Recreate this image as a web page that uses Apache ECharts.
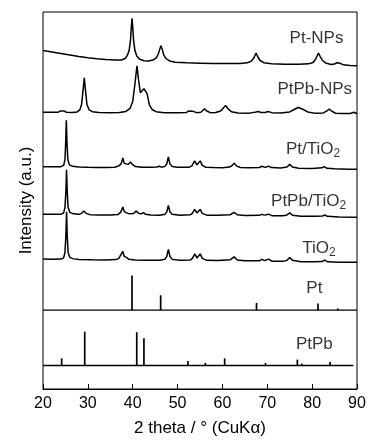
<!DOCTYPE html>
<html>
<head>
<meta charset="utf-8">
<script src="https://cdn.jsdelivr.net/npm/echarts@6/dist/echarts.min.js"></script>
<style>
  html, body { margin: 0; padding: 0; background: #fff; }
  #chart { width: 374px; height: 442px; }
</style>
</head>
<body>
<div id="chart"></div>
<script>
// XRD patterns, [2theta, intensity above own baseline] (a.u.)
const ptNps = [[20,16],[22,14.5],[24,13],[26,11.5],[28,10],[30,8.7],[32,7.8],[34,7],[36,6.4],[37.5,6.5],[38.3,8],[38.8,11],[39.2,16],[39.5,26],[39.7,40],[39.85,48.5],[40.0,40],[40.2,26],[40.5,16],[40.9,10.5],[41.5,7.5],[42.5,5.8],[43.5,5.5],[44.5,6.5],[45.2,8.5],[45.7,12.5],[46.0,17],[46.3,21],[46.6,17],[46.9,12],[47.4,8],[48.2,5.5],[49.5,4.3],[52,3.6],[55,3.3],[58,3],[61,2.9],[64,3.0],[65.5,3.6],[66.4,5.2],[67.0,8.5],[67.5,13.5],[67.9,9.5],[68.4,6],[69.2,3.8],[71,2.7],[74,2.3],[77,2.2],[79.2,2.6],[80.2,4],[80.8,7.5],[81.4,13.5],[81.8,10],[82.3,6],[83,3.5],[84.2,2],[85.0,2.4],[85.5,3.8],[85.8,4.5],[86.2,3.2],[87,1.6],[88.5,1],[90,0.6]];

const ptPbNps = [[20,1.2],[22,1.2],[23.4,1.3],[23.9,2.5],[24.3,4],[24.7,2.5],[25.2,1.2],[26.5,1.0],[27.6,1.5],[28.2,3.5],[28.6,9],[28.9,22],[29.2,36],[29.5,22],[29.8,9],[30.3,3.5],[31,1.8],[32.5,1],[35,0.8],[37,1],[38.5,2],[39.4,5],[40.0,12],[40.5,30],[40.95,48],[41.3,34],[41.7,21],[42.1,20],[42.5,25],[42.8,27],[43.2,20],[43.7,9],[44.3,4],[45.2,1.8],[47,0.8],[50,0.6],[52,1],[52.5,2.5],[52.9,4],[53.4,2.3],[54.2,0.8],[55.2,1.2],[55.6,3],[56,4.7],[56.5,2.5],[57.3,0.8],[58.5,1],[59.6,2.5],[60.2,5.5],[60.7,8],[61.2,5],[62,1.8],[63.5,0.5],[66,0.3],[67.5,1.5],[68,2],[68.6,1],[69.5,1],[70.2,2],[71,0.8],[73,0.5],[75,1.5],[76.2,4.5],[76.9,6],[77.8,4.5],[79,1.5],[80.5,0.3],[82.5,0.5],[83.3,2.5],[83.8,4.5],[84.3,2.5],[85.2,0.2],[87,0],[88.5,0],[89.3,1.2],[90,-0.3]];

const ptTiO2 = [[20,1.2],[22,1],[24,1.2],[24.6,2.5],[24.9,8],[25.05,25],[25.2,48],[25.35,25],[25.55,8],[25.9,3],[26.6,1.5],[28,0.8],[30,0.5],[32,0.3],[34,0.3],[36,0.6],[36.9,2],[37.4,4],[37.8,10],[38.1,4.5],[38.5,3],[39.0,3.5],[39.5,6],[39.9,3.5],[40.6,1.3],[42,0.6],[44,0.5],[45.4,0.8],[45.9,1.6],[46.4,0.7],[47.2,1.5],[47.6,4],[47.95,11],[48.3,4],[48.8,1.3],[50,0.5],[52.5,0.5],[53.2,2],[53.8,7],[54.3,3],[54.6,3],[55.05,7],[55.5,2.5],[56.3,0.6],[58,0.3],[60,0.2],[61.6,0.8],[62.2,2.5],[62.6,4.8],[63.1,2],[64,0.4],[66,0],[68.2,0.3],[68.8,1.6],[69.3,0.7],[69.8,0.8],[70.3,1.8],[70.9,0.3],[73,-0.2],[74.4,0.8],[75.0,3.5],[75.6,0.8],[77,-0.4],[80,-0.6],[82.2,0],[82.7,1.2],[83.3,-0.5],[85,-1],[88,-1.3],[90,-1.5]];

const ptPbTiO2 = [[20,1],[22,1],[24,1],[24.6,2.5],[24.9,8],[25.1,24],[25.25,46],[25.4,24],[25.6,8],[26,3],[26.8,1.5],[28,1],[28.6,2],[29.1,4.5],[29.6,2],[30.5,0.7],[32.5,0.3],[35,0.3],[36.7,0.8],[37.3,3],[37.8,8.5],[38.1,4],[38.6,2.5],[39.3,1.5],[40.2,1.8],[40.8,4.5],[41.3,2],[41.9,1.5],[42.4,2.8],[42.9,1],[44,0.3],[46,0.2],[47.2,1.2],[47.6,3.5],[47.95,10],[48.3,3.5],[48.8,1],[50.5,0.2],[52.8,0.5],[53.3,2],[53.8,6],[54.3,2.5],[54.6,2.5],[55.05,6],[55.5,2],[56.5,0.2],[59,0],[61.7,0.6],[62.6,3],[63.3,0.6],[65,-0.2],[68.2,0],[68.8,1],[69.4,0.2],[70.3,1.2],[71,-0.3],[73.5,-0.5],[74.4,0.4],[75,2.5],[75.6,0.2],[77.5,-0.8],[80.5,-1],[82.3,-0.6],[82.8,0.3],[83.4,-1],[86,-1.7],[90,-2]];

const tiO2 = [[20,1.3],[22,1.2],[24,1.3],[24.6,2.5],[24.9,8],[25.1,25],[25.25,49],[25.4,25],[25.6,8],[26,3],[26.8,1.5],[28,0.8],[31,0.5],[34,0.4],[36.3,0.8],[36.9,2],[37.3,3.5],[37.8,9],[38.1,4],[38.6,3],[39.1,1.2],[40.5,0.4],[43,0.2],[46,0.2],[47.2,1.2],[47.6,4],[47.95,11],[48.3,4],[48.8,1],[50.5,0],[52.8,0.3],[53.3,2],[53.85,6.5],[54.3,2.5],[54.6,2.5],[55.05,6.5],[55.5,2],[56.5,0],[59,-0.2],[61.7,0.5],[62.6,3.5],[63.3,0.3],[65,-0.5],[68.2,-0.5],[68.8,1],[69.4,-0.3],[70.3,1.3],[71,-0.8],[73.5,-1],[74.4,0],[75,3],[75.6,0],[77.5,-1.3],[80.5,-1.5],[82.2,-1.2],[82.8,0.3],[83.5,-1.5],[86,-2],[90,-2]];

// reference stick patterns [2theta, intensity]
const ptRef = [[39.84,35],[46.23,15],[67.6,7.3],[81.3,6.7],[85.7,1.7]];
const ptPbRef = [[24.16,7.3],[29.3,34.3],[40.9,33.7],[42.5,27.7],[52.3,4.7],[56.2,2.7],[60.5,7.3],[69.6,2.7],[76.7,6],[77.7,2],[84.0,3.7]];
const ptRefRange = [20, 90];
const ptPbRefRange = [20, 89.2];

// vertical offsets of each pattern
const offsets = { ptNps: 326, ptPbNps: 278.5, ptTiO2: 223.5, ptPbTiO2: 175.5, tiO2: 130, ptRef: 79.7, ptPbRef: 23.7 };

const xTicks = [20, 30, 40, 50, 60, 70, 80, 90];

const FONT = 'Liberation Sans, Arial, sans-serif';
const chart = echarts.init(document.getElementById('chart'));

const shift = (arr, off) => arr.map(([t, v]) => [t, v + off]);

const traceSeries = (data, off) => ({
  type: 'line',
  data: shift(data, off),
  showSymbol: false,
  symbol: 'none',
  lineStyle: { color: '#000', width: 1.5 },
  silent: true,
  z: 3
});

const stickSeries = (data, base) => ({
  type: 'custom',
  data: data,
  renderItem: (params, api) => {
    const p0 = api.coord([api.value(0), base]);
    const p1 = api.coord([api.value(0), base + api.value(1)]);
    return {
      type: 'line',
      shape: { x1: p0[0], y1: p0[1], x2: p1[0], y2: p1[1] },
      style: { stroke: '#000', lineWidth: 1.7 }
    };
  },
  silent: true,
  z: 3
});

const baseLine = (range, base) => ({
  type: 'line',
  data: range.map(t => [t, base]),
  showSymbol: false,
  symbol: 'none',
  lineStyle: { color: '#000', width: 1.4 },
  silent: true,
  z: 3
});

// pattern labels (2theta, value)
const labels = [
  { text: 'Pt-NPs', pos: [80.97, 354] },
  { text: 'PtPb-NPs', pos: [80.57, 303] },
  { text: 'Pt/TiO{s|2}', pos: [80.2, 242.5] },
  { text: 'PtPb/TiO{s|2}', pos: [79.2, 189.5] },
  { text: 'TiO{s|2}', pos: [81.5, 142.5] },
  { text: 'Pt', pos: [80.5, 101.5] },
  { text: 'PtPb', pos: [80.5, 45] }
];

const option = {
  animation: false,
  backgroundColor: '#fff',
  textStyle: { fontFamily: FONT },
  grid: { left: 43, right: 17, top: 12, bottom: 49, show: true, borderColor: '#000', borderWidth: 1, backgroundColor: 'transparent' },
  xAxis: {
    type: 'value',
    min: xTicks[0],
    max: xTicks[xTicks.length - 1],
    interval: 10,
    name: '2 theta / ° (CuKα)',
    nameLocation: 'middle',
    nameGap: 31,
    nameTextStyle: { color: '#000', fontSize: 17, fontFamily: FONT },
    axisLine: { show: true, lineStyle: { color: '#000', width: 1 } },
    axisTick: { show: true, inside: true, length: 5, lineStyle: { color: '#000' } },
    axisLabel: { color: '#000', fontSize: 16, margin: 7, fontFamily: FONT },
    splitLine: { show: false }
  },
  yAxis: {
    type: 'value',
    min: 0,
    max: 381,
    name: 'Intensity (a.u.)',
    nameLocation: 'middle',
    nameGap: 8,
    nameTextStyle: { color: '#000', fontSize: 17, fontFamily: FONT },
    axisLine: { show: false },
    axisTick: { show: false },
    axisLabel: { show: false },
    splitLine: { show: false }
  },
  series: [
    traceSeries(ptNps, offsets.ptNps),
    traceSeries(ptPbNps, offsets.ptPbNps),
    traceSeries(ptTiO2, offsets.ptTiO2),
    traceSeries(ptPbTiO2, offsets.ptPbTiO2),
    traceSeries(tiO2, offsets.tiO2),
    baseLine(ptRefRange, offsets.ptRef),
    stickSeries(ptRef, offsets.ptRef),
    baseLine(ptPbRefRange, offsets.ptPbRef),
    stickSeries(ptPbRef, offsets.ptPbRef),
    {
      type: 'scatter',
      symbolSize: 0,
      silent: true,
      data: labels.map(l => ({ value: l.pos, name: l.text })),
      label: {
        show: true,
        position: 'inside',
        formatter: p => p.name,
        color: '#000',
        fontSize: 17,
        fontFamily: FONT,
        rich: {
          s: { fontSize: 12, fontFamily: FONT, color: '#000', padding: [9, 0, 0, 0] }
        }
      },
      z: 5
    }
  ]
};

chart.setOption(option);
</script>
</body>
</html>
